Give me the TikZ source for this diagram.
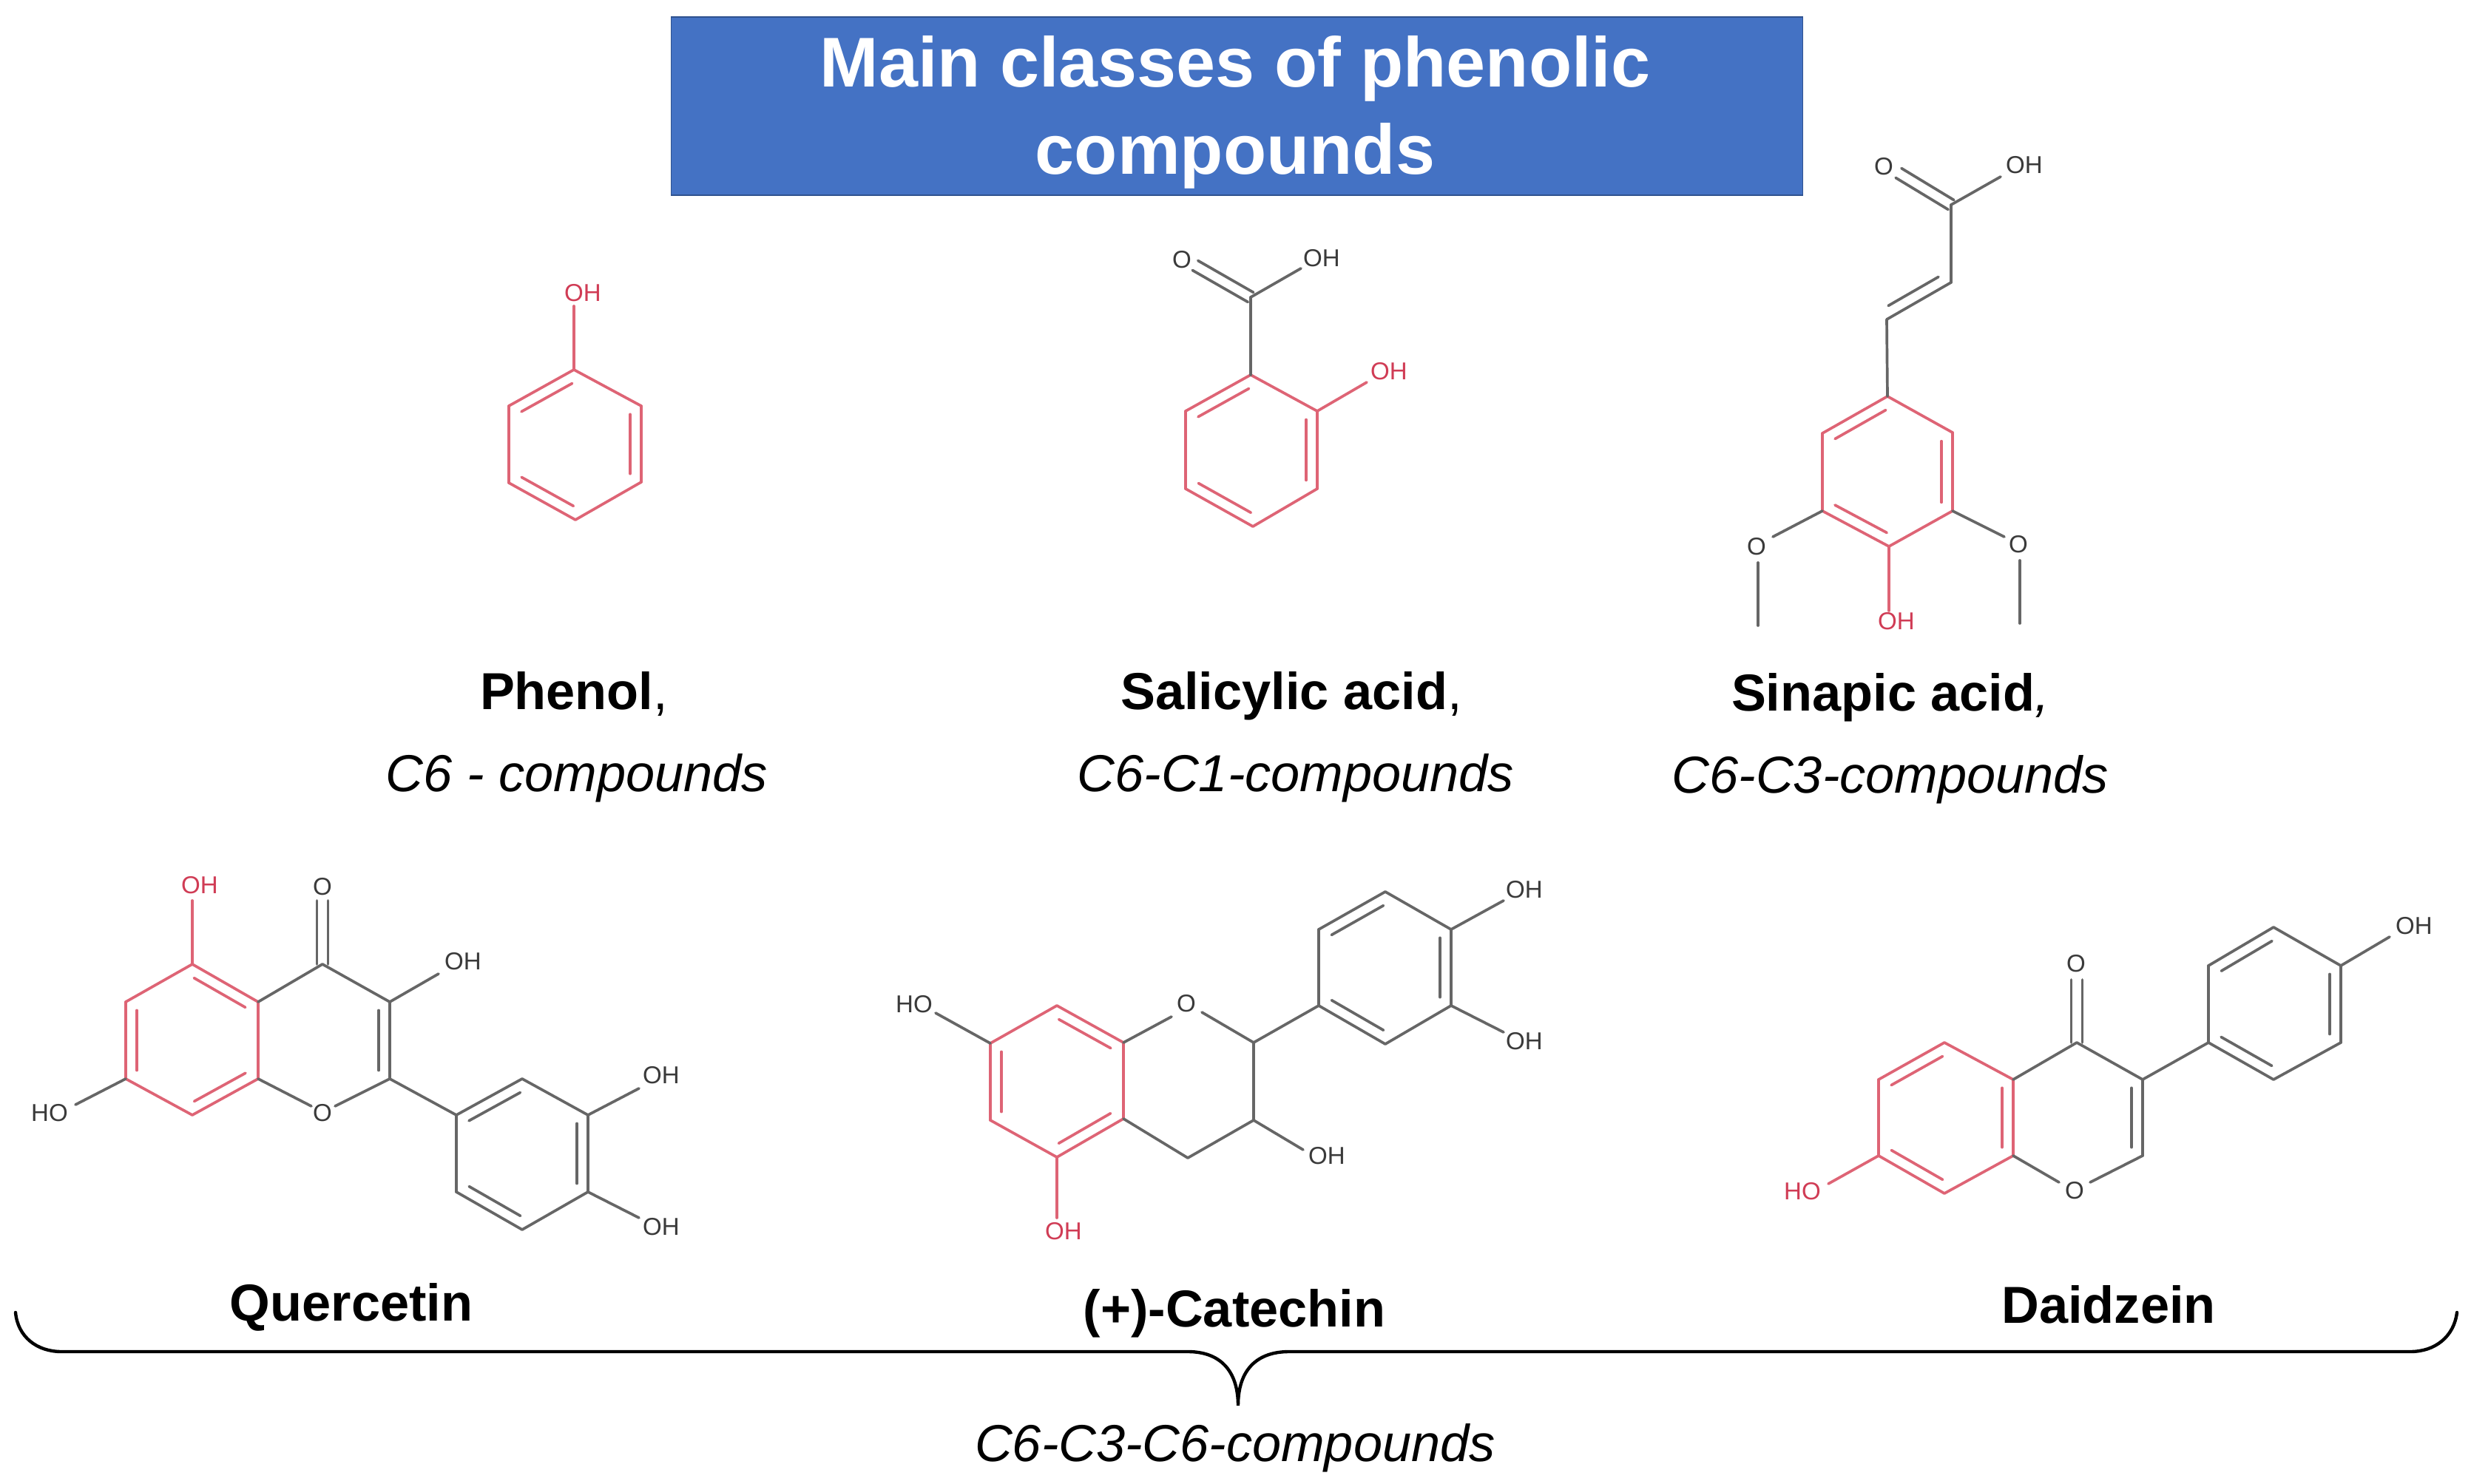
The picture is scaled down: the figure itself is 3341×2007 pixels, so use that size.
\documentclass[tikz,border=0pt]{standalone}
\usepackage{fontspec}
\setmainfont{Liberation Sans}
\usetikzlibrary{calc}
\definecolor{bluebox}{HTML}{4472C4}
\definecolor{blueedge}{HTML}{2F528F}
\definecolor{bondred}{HTML}{DE6475}
\definecolor{bondgray}{HTML}{666666}
\definecolor{labred}{HTML}{D03C55}
\definecolor{labgray}{HTML}{3A3A3A}
\tikzset{
  titlebox/.style={fill=bluebox,draw=blueedge,line width=0.5pt,inner sep=0pt},
  titletext/.style={text=white,font=\fontsize{27.1}{33.5}\selectfont\bfseries,align=center,inner sep=0pt},
  name label/.style={anchor=base,inner sep=0pt,text=black,font=\fontsize{20}{24}\selectfont},
  class label/.style={anchor=base,inner sep=0pt,text=black,font=\fontsize{20}{24}\selectfont\itshape},
  atomr/.style={inner sep=0pt,text=labred,font=\fontsize{9.4}{11}\selectfont},
  atomg/.style={inner sep=0pt,text=labgray,font=\fontsize{9.4}{11}\selectfont},
  bondr/.style={draw=bondred,line width=1.05pt,line cap=round,line join=round},
  bondg/.style={draw=bondgray,line width=1.05pt,line cap=round,line join=round},
  bracket/.style={draw=black,line width=1.25pt,line cap=round}
}
\newcommand\pts[1]{\foreach \n/\x/\y in {#1}{\coordinate (\n) at (\x,\y);}}
\newcommand\bonds[2]{\foreach \p/\q in {#2}{\draw[#1] (\p) -- (\q);}}
% double-bond inner line, on the right of a->b as seen on the page
\newcommand\inner[2]{\foreach \p/\q in {#2}{\draw[#1] ($(\p)!.11!(\q)!.15cm!-90:(\q)$) -- ($(\q)!.11!(\p)!.15cm!90:(\p)$);}}
% centred double bond
\newcommand\twin[2]{\foreach \p/\q in {#2}{\draw[#1] ($(\p)!.075cm!90:(\q)$) -- ($(\q)!.075cm!-90:(\p)$);\draw[#1] ($(\p)!.075cm!-90:(\q)$) -- ($(\q)!.075cm!90:(\p)$);}}
\begin{document}
\begin{tikzpicture}[x=0.01cm,y=-0.01cm]
\useasboundingbox (0,0) rectangle (3341,2007);
% title
\node[titlebox,minimum width=15.29cm,minimum height=2.41cm] (box) at (1672.5,143.5) {};
\node[titletext] (title) at (1670,152) {Main classes of phenolic\\compounds};

% ---- Phenol
\pts{p1/776/500,p2/867/549,p3/867/652,p4/778/703,p5/688/653,p6/688/549,pe/776/414}
\bonds{bondr}{p1/p2,p2/p3,p3/p4,p4/p5,p5/p6,p6/p1,p1/pe}
\inner{bondr}{p6/p1,p2/p3,p4/p5}
\node[atomr] (pOH) at (788,396) {OH};
\node[name label] (pname) at (776,960) {\textbf{Phenol},};
\node[class label] (pclass) at (780,1071) {C6 - compounds};

% ---- Salicylic acid
\pts{s1/1691/507,s2/1781/556,s3/1781/661,s4/1694/712,s5/1603/661,s6/1603/556,sc/1691/402,so/1616/359,sh/1759/363,sr/1848/517}
\bonds{bondr}{s1/s2,s2/s3,s3/s4,s4/s5,s5/s6,s6/s1,s2/sr}
\inner{bondr}{s6/s1,s2/s3,s4/s5}
\bonds{bondg}{s1/sc,sc/sh}
\twin{bondg}{sc/so}
\node[atomg] (sO) at (1598,351) {O};
\node[atomg] (sOH) at (1787,349) {OH};
\node[atomr] (sOHr) at (1878,502) {OH};
\node[name label] (sname) at (1746,960) {\textbf{Salicylic acid},};
\node[class label] (sclass) at (1752,1071) {C6-C1-compounds};

% ---- Sinapic acid
\pts{i1/2552/536,i2/2640/585,i3/2640/691,i4/2554/739,i5/2464/691,i6/2464/586,ia/2551/432,ib/2638/382,ic/2638/277,io/2567/234,ih/2705/239,il/2397/726,im/2377/761,in/2377/846,ir/2710/726,is/2731/758,it/2731/843,ie/2554/826}
\bonds{bondr}{i1/i2,i2/i3,i3/i4,i4/i5,i5/i6,i6/i1,i4/ie}
\inner{bondr}{i6/i1,i2/i3,i4/i5}
\bonds{bondg}{i1/ia,ia/ib,ib/ic,ic/ih,i5/il,im/in,i3/ir,is/it}
\inner{bondg}{ib/ia}
\twin{bondg}{ic/io}
\node[atomg] (iO) at (2547,225) {O};
\node[atomg] (iOH) at (2737,223) {OH};
\node[atomg] (iOl) at (2375,739) {O};
\node[atomg] (iOr) at (2729,736) {O};
\node[atomr] (iOHr) at (2564,840) {OH};
\node[name label] (iname) at (2556,962) {\textbf{Sinapic acid}\textit{,}};
\node[class label] (iclass) at (2556,1073) {C6-C3-compounds};

% ---- Quercetin
\pts{qa1/260/1304,qa2/349/1355,qa3/349/1459,qa4/260/1508,qa5/170/1459,qa6/170/1355,qc4/436/1304,qc3/527/1355,qc2/527/1459,qol/421/1496,qor/453/1496,qdo/436/1218,qer/260/1218,qe3/593/1317,qeh/102/1494,qb1/617/1508,qb2/706/1459,qb3/795/1508,qb4/795/1612,qb5/706/1663,qb6/617/1612,qe5/864/1472,qe6/864/1647}
\bonds{bondr}{qa1/qa2,qa2/qa3,qa3/qa4,qa4/qa5,qa5/qa6,qa6/qa1}
\inner{bondr}{qa1/qa2,qa3/qa4,qa5/qa6}
\bonds{bondr}{qa1/qer}
\bonds{bondg}{qa2/qc4,qc4/qc3,qc3/qc2,qa3/qol,qc2/qor,qc3/qe3,qa5/qeh,qc2/qb1,qb1/qb2,qb2/qb3,qb3/qb4,qb4/qb5,qb5/qb6,qb6/qb1,qb3/qe5,qb4/qe6}
\inner{bondg}{qc3/qc2,qb1/qb2,qb3/qb4,qb5/qb6}
\twin{bondg}{qc4/qdo}
\node[atomr] (qOH1) at (270,1197) {OH};
\node[atomg] (qOd) at (436,1199) {O};
\node[atomg] (qOH2) at (626,1300) {OH};
\node[atomg] (qO) at (436,1505) {O};
\node[atomg] (qHO) at (67,1505) {HO};
\node[atomg] (qOH3) at (894,1454) {OH};
\node[atomg] (qOH4) at (894,1659) {OH};
\node[name label] (qname) at (475,1786) {\textbf{Quercetin}};

% ---- Catechin
\pts{ca1/1429/1360,ca2/1519/1410,ca3/1519/1513,ca4/1429/1565,ca5/1339/1515,ca6/1339/1411,col/1584/1375,cor/1625/1369,cc2/1695/1410,cc3/1695/1515,cc4/1606/1566,ce3/1762/1555,cb1/1783/1360,cb2/1783/1257,cb3/1873/1206,cb4/1962/1257,cb5/1962/1360,cb6/1873/1412,ce4/2033/1218,ce5/2033/1396,ceh/1265/1370,cer/1429/1647}
\bonds{bondr}{ca1/ca2,ca2/ca3,ca3/ca4,ca4/ca5,ca5/ca6,ca6/ca1,ca4/cer}
\inner{bondr}{ca1/ca2,ca3/ca4,ca5/ca6}
\bonds{bondg}{ca2/col,cc2/cor,cc2/cc3,cc3/cc4,cc4/ca3,cc3/ce3,cc2/cb1,cb1/cb2,cb2/cb3,cb3/cb4,cb4/cb5,cb5/cb6,cb6/cb1,cb4/ce4,cb5/ce5,ca6/ceh}
\inner{bondg}{cb2/cb3,cb4/cb5,cb6/cb1}
\node[atomg] (cO) at (1604,1357) {O};
\node[atomg] (cHO) at (1236,1358) {HO};
\node[atomg] (cOH3) at (1794,1563) {OH};
\node[atomg] (cOH4) at (2061,1203) {OH};
\node[atomg] (cOH5) at (2061,1408) {OH};
\node[atomr] (cOHr) at (1438,1665) {OH};
\node[name label] (cname) at (1669,1794) {\textbf{(+)-Catechin}};

% ---- Daidzein
\pts{da1/2629/1410,da2/2722/1460,da3/2722/1563,da4/2629/1614,da5/2540/1563,da6/2540/1460,dc4/2808/1410,dc3/2897/1460,dc2/2897/1563,dol/2784/1599,dor/2826/1599,ddo/2808/1325,db1/2986/1410,db2/2986/1306,db3/3074/1254,db4/3165/1306,db5/3165/1410,db6/3074/1460,de4/3231/1267,der/2472/1601}
\bonds{bondr}{da1/da2,da2/da3,da3/da4,da4/da5,da5/da6,da6/da1,da5/der}
\inner{bondr}{da6/da1,da2/da3,da4/da5}
\bonds{bondg}{da2/dc4,dc4/dc3,dc3/dc2,da3/dol,dc2/dor,dc3/db1,db1/db2,db2/db3,db3/db4,db4/db5,db5/db6,db6/db1,db4/de4}
\inner{bondg}{dc3/dc2,db2/db3,db4/db5,db6/db1}
\twin{bondg}{dc4/ddo}
\node[atomg] (dOd) at (2807,1303) {O};
\node[atomg] (dO) at (2805,1610) {O};
\node[atomg] (dOH) at (3264,1252) {OH};
\node[atomr] (dHO) at (2437,1611) {HO};
\node[name label] (dname) at (2851,1789) {\textbf{Daidzein}};

% ---- Brace
\pts{bl/21/1775,blc/83/1828,bls/1606/1828,bt/1674/1901,brs/1743/1828,brc/3259/1828,br/3322/1775}
\draw[bracket] (bl) .. controls (24,1808) and (50,1828) .. (blc) -- (bls) .. controls (1648,1828) and (1674,1852) .. (bt) .. controls (1674,1852) and (1700,1828) .. (brs) -- (brc) .. controls (3292,1828) and (3318,1808) .. (br);
\node[class label] (bclass) at (1670,1976) {C6-C3-C6-compounds};
\end{tikzpicture}
\end{document}
